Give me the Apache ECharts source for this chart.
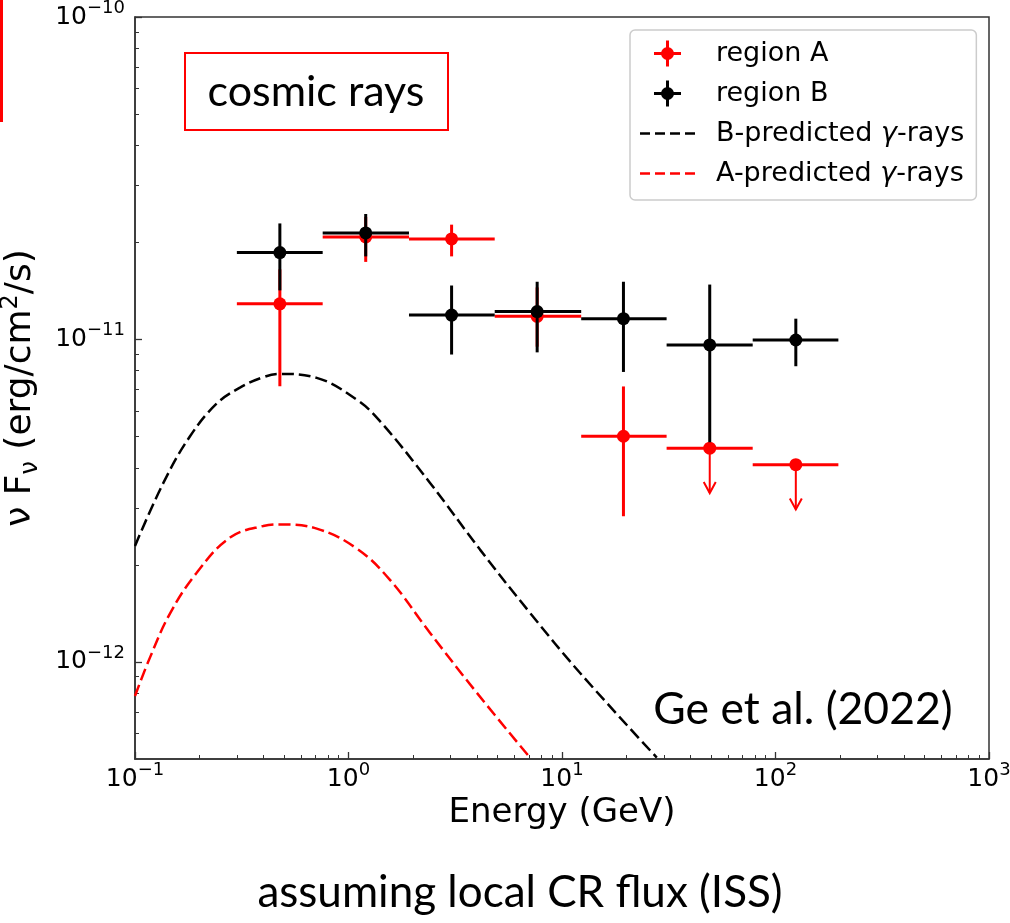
<!DOCTYPE html>
<html>
<head>
<meta charset="utf-8">
<script src="https://cdn.jsdelivr.net/npm/echarts@6/dist/echarts.min.js"></script>
<style>
html,body{margin:0;padding:0;background:#fff;}
#chart{width:1010px;height:923px;}
</style>
</head>
<body>
<div id="chart"></div>
<script>
// ---------- data ----------
const energy   = [0.477, 1.204, 3.04, 7.65, 19.4, 49.2, 124.5];
const binLow   = [0.30, 0.757, 1.92, 4.84, 12.3, 30.9, 78.2];
const binHigh  = [0.757, 1.92, 4.84, 12.3, 30.9, 78.2, 197];

const fluxA    = [1.29e-11, 2.08e-11, 2.05e-11, 1.18e-11, 5.01e-12, 4.6e-12, 4.09e-12];
const fluxAlo  = [7.16e-12, 1.74e-11, 1.81e-11, 9.5e-12, 2.83e-12, null, null];
const fluxAhi  = [1.65e-11, 2.4e-11, 2.27e-11, 1.45e-11, 7.15e-12, null, null];
const upperLimA = [0, 0, 0, 0, 0, 1, 1];
const arrowEndA = [null, null, null, null, null, 3.34e-12, 2.97e-12];

const fluxB    = [1.86e-11, 2.14e-11, 1.19e-11, 1.22e-11, 1.16e-11, 9.62e-12, 9.96e-12];
const fluxBlo  = [1.42e-11, 1.81e-11, 8.98e-12, 9.12e-12, 7.93e-12, 4.8e-12, 8.26e-12];
const fluxBhi  = [2.29e-11, 2.45e-11, 1.47e-11, 1.51e-11, 1.51e-11, 1.48e-11, 1.16e-11];

const predBE = [0.1, 0.1358, 0.181, 0.241, 0.310, 0.399, 0.477, 0.710, 1.09, 1.404, 2.41, 4.13, 7.08, 12.1, 27.8];
const predBF = [2.29e-12, 3.59e-12, 5.01e-12, 6.32e-12, 7.09e-12, 7.64e-12, 7.82e-12, 7.60e-12, 6.51e-12, 5.58e-12, 3.59e-12, 2.23e-12, 1.42e-12, 9.27e-13, 5.05e-13];
const predAE = [0.1, 0.1176, 0.146, 0.1945, 0.2786, 0.399, 0.477, 0.710, 1.09, 1.56, 2.41, 3.98, 7.08];
const predAF = [7.84e-13, 1.033e-12, 1.415e-12, 1.89e-12, 2.43e-12, 2.64e-12, 2.67e-12, 2.59e-12, 2.25e-12, 1.80e-12, 1.23e-12, 8.04e-13, 5.05e-13];

const xRange = [0.1, 1000];
const yRange = [5e-13, 1e-10];
const xMajorExp = [-1, 0, 1, 2, 3];
const yMajorExp = [-12, -11, -10];

// ---------- helpers ----------
const L = Math.log10;
function minors(lo, hi) {
  const out = [];
  for (let e = Math.floor(L(lo)); e < Math.ceil(L(hi)); e++) {
    for (let k = 2; k <= 9; k++) {
      const v = k * Math.pow(10, e);
      if (v > lo * 1.0001 && v < hi * 0.9999) out.push(L(v));
    }
  }
  return out;
}
function expLabel(v) {
  const n = Math.round(v);
  return '{b|10}{s|' + (n < 0 ? '\u2212' + (-n) : n) + '}';
}
function errData(flux, lo, hi, ul, ulEnd) {
  return energy.map((e, i) => [
    L(e), L(flux[i]), L(binLow[i]), L(binHigh[i]),
    lo && lo[i] != null ? L(lo[i]) : NaN,
    hi && hi[i] != null ? L(hi[i]) : NaN,
    ul ? ul[i] : 0,
    ulEnd && ulEnd[i] != null ? L(ulEnd[i]) : NaN
  ]);
}
function errRender(color) {
  return function (params, api) {
    const x = api.value(0), y = api.value(1);
    const p = api.coord([x, y]);
    const pl = api.coord([api.value(2), y]);
    const pr = api.coord([api.value(3), y]);
    const children = [{
      type: 'line', shape: {x1: pl[0], y1: pl[1], x2: pr[0], y2: pr[1]},
      style: {stroke: color, lineWidth: 3}
    }];
    if (api.value(6) === 1) {
      const pe = api.coord([x, api.value(7)]);
      children.push({type: 'line', shape: {x1: p[0], y1: p[1], x2: pe[0], y2: pe[1]},
        style: {stroke: color, lineWidth: 2}});
      children.push({type: 'polyline', shape: {points: [[pe[0] - 6, pe[1] - 11], [pe[0], pe[1]], [pe[0] + 6, pe[1] - 11]]},
        style: {stroke: color, lineWidth: 2, fill: null}});
    } else {
      const plo = api.coord([x, api.value(4)]);
      const phi = api.coord([x, api.value(5)]);
      children.push({type: 'line', shape: {x1: plo[0], y1: plo[1], x2: phi[0], y2: phi[1]},
        style: {stroke: color, lineWidth: 3}});
    }
    children.push({type: 'circle', shape: {cx: p[0], cy: p[1], r: 6.5}, style: {fill: color}});
    return {type: 'group', children: children};
  };
}

const FONT = 'DejaVu Sans';
const AXC = '#333333';
const tickRich = {
  b: {fontSize: 25, fontFamily: FONT, color: '#000', lineHeight: 36},
  s: {fontSize: 18, fontFamily: FONT, color: '#000', lineHeight: 22, verticalAlign: 'top'}
};
const errIcon = 'path://M0,11.5 h27 v3 h-27 z M12,0 h3 v26 h-3 z M7,13 a6.5,6.5 0 1,1 13,0 a6.5,6.5 0 1,1 -13,0 z';
const dashIcon = 'path://M0,0 h10 v2.5 h-10 z M15,0 h10 v2.5 h-10 z M30,0 h10 v2.5 h-10 z M45,0 h10 v2.5 h-10 z';

const chart = echarts.init(document.getElementById('chart'));
chart.setOption({
  animation: false,
  backgroundColor: '#ffffff',
  grid: {left: 135, right: 21, top: 17, bottom: 164, outerBoundsMode: 'none', containLabel: false,
    show: true, borderColor: AXC, borderWidth: 1.5, backgroundColor: 'transparent'},
  xAxis: [{
    type: 'value', min: L(xRange[0]), max: L(xRange[1]), position: 'bottom',
    axisLine: {show: true, onZero: false, lineStyle: {color: AXC, width: 1.5}},
    axisTick: {show: true, inside: true, length: 7, customValues: xMajorExp, lineStyle: {color: AXC, width: 1.3}},
    axisLabel: {show: true, margin: 2, customValues: xMajorExp, formatter: expLabel, rich: tickRich},
    splitLine: {show: false},
    name: 'Energy (GeV)', nameLocation: 'middle', nameGap: 36,
    nameTextStyle: {fontSize: 34, fontFamily: FONT, color: '#000'}
  }, {
    type: 'value', min: L(xRange[0]), max: L(xRange[1]), position: 'bottom',
    axisLine: {show: false, onZero: false},
    axisTick: {show: true, inside: true, length: 4, customValues: minors(xRange[0], xRange[1]), lineStyle: {color: AXC, width: 1}},
    axisLabel: {show: false},
    splitLine: {show: false}
  }],
  yAxis: [{
    type: 'value', min: L(yRange[0]), max: L(yRange[1]), position: 'left',
    axisLine: {show: true, onZero: false, lineStyle: {color: AXC, width: 1.5}},
    axisTick: {show: true, inside: true, length: 7, customValues: yMajorExp, lineStyle: {color: AXC, width: 1.3}},
    axisLabel: {show: true, margin: 10, customValues: yMajorExp, formatter: expLabel, rich: tickRich},
    splitLine: {show: false},
    name: '\u03bd F{sub|\u03bd} (erg/cm{sup|2}/s)', nameLocation: 'middle', nameGap: 92, nameRotate: 90,
    nameTextStyle: {fontSize: 36, fontFamily: FONT, color: '#000', lineHeight: 44,
      rich: {
        sub: {fontSize: 24, fontFamily: FONT, color: '#000', lineHeight: 25, verticalAlign: 'bottom'},
        sup: {fontSize: 24, fontFamily: FONT, color: '#000', lineHeight: 25, verticalAlign: 'top'}
      }}
  }, {
    type: 'value', min: L(yRange[0]), max: L(yRange[1]), position: 'left',
    axisLine: {show: false, onZero: false},
    axisTick: {show: true, inside: true, length: 4, customValues: minors(yRange[0], yRange[1]), lineStyle: {color: AXC, width: 1}},
    axisLabel: {show: false},
    splitLine: {show: false}
  }],
  legend: {
    orient: 'vertical', left: 630, top: 30,
    padding: [10, 12, 13, 10],
    itemWidth: 55, itemHeight: 26, itemGap: 13,
    backgroundColor: '#ffffff', borderColor: '#cccccc', borderWidth: 1.5, borderRadius: 5,
    selectedMode: false,
    formatter: function (name) { return name.replace('\u03b3', '{i|\u03b3}'); },
    textStyle: {fontSize: 27, lineHeight: 26, fontFamily: FONT, color: '#000', padding: [0, 0, 0, 16],
      rich: {i: {fontSize: 27, lineHeight: 26, fontFamily: FONT, fontStyle: 'italic', color: '#000'}}},
    data: [
      {name: 'region A', icon: errIcon, itemStyle: {color: '#ff0000'}},
      {name: 'region B', icon: errIcon, itemStyle: {color: '#000000'}},
      {name: 'B-predicted \u03b3-rays', icon: dashIcon, itemStyle: {color: '#000000'}},
      {name: 'A-predicted \u03b3-rays', icon: dashIcon, itemStyle: {color: '#ff0000'}}
    ]
  },
  series: [
    {
      name: 'B-predicted \u03b3-rays', type: 'line', xAxisIndex: 0, yAxisIndex: 0,
      data: predBE.map((e, i) => [L(e), L(predBF[i])]),
      symbol: 'none', smooth: 0.4, clip: true, silent: true,
      color: '#000000',
      lineStyle: {color: '#000000', width: 2.5, type: [12, 5]}
    },
    {
      name: 'A-predicted \u03b3-rays', type: 'line', xAxisIndex: 0, yAxisIndex: 0,
      data: predAE.map((e, i) => [L(e), L(predAF[i])]),
      symbol: 'none', smooth: 0.4, clip: true, silent: true,
      color: '#ff0000',
      lineStyle: {color: '#ff0000', width: 2.5, type: [12, 5]}
    },
    {
      name: 'region A', type: 'custom', xAxisIndex: 0, yAxisIndex: 0,
      color: '#ff0000', itemStyle: {color: '#ff0000'}, silent: true,
      encode: {x: 0, y: 1},
      renderItem: errRender('#ff0000'),
      data: errData(fluxA, fluxAlo, fluxAhi, upperLimA, arrowEndA)
    },
    {
      name: 'region B', type: 'custom', xAxisIndex: 0, yAxisIndex: 0,
      color: '#000000', itemStyle: {color: '#000000'}, silent: true,
      encode: {x: 0, y: 1},
      renderItem: errRender('#000000'),
      data: errData(fluxB, fluxBlo, fluxBhi, null, null)
    }
  ],
  graphic: [
    {type: 'rect', shape: {x: 0, y: 0, width: 3, height: 122}, style: {fill: '#ff0000'}},
    {type: 'rect', shape: {x: 185, y: 53, width: 263, height: 77}, style: {fill: '#ffffff', stroke: '#ff0000', lineWidth: 2}, z: 50},
    {type: 'text', x: 316, y: 92, z: 51, style: {text: 'cosmic rays', fontSize: 43, fontFamily: 'Lato', fill: '#000',
      align: 'center', verticalAlign: 'middle', textAlign: 'center', textVerticalAlign: 'middle'}},
    {type: 'text', x: 803, y: 710, z: 51, style: {text: 'Ge et al. (2022)', fontSize: 44.5, fontFamily: 'Lato', fill: '#000',
      align: 'center', verticalAlign: 'middle', textAlign: 'center', textVerticalAlign: 'middle'}},
    {type: 'text', x: 520, y: 893, z: 51, style: {text: 'assuming local CR flux (ISS)', fontSize: 44, fontFamily: 'Lato', fill: '#000',
      align: 'center', verticalAlign: 'middle', textAlign: 'center', textVerticalAlign: 'middle'}}
  ]
});
</script>
</body>
</html>
